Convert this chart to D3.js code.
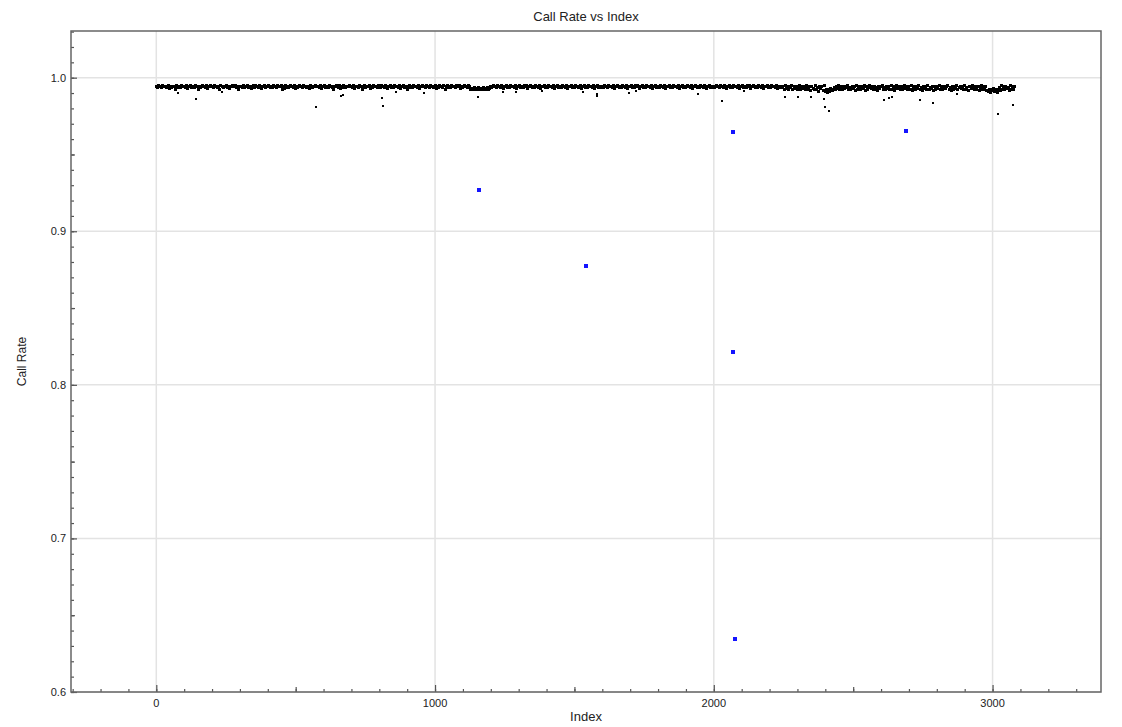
<!DOCTYPE html>
<html>
<head>
<meta charset="utf-8">
<script src="https://cdn.jsdelivr.net/npm/d3@7"></script>
<style>
  body { margin: 0; background: #fff; }
  text { font-family: "Liberation Sans", Arial, sans-serif; fill: #222; }
</style>
</head>
<body>
<svg id="chart" width="1122" height="727"></svg>
<script>
const title = "Call Rate vs Index";
const xLabel = "Index";
const yLabel = "Call Rate";
const xTicks = [0, 1000, 2000, 3000];
const yTicks = [0.6, 0.7, 0.8, 0.9, 1.0];

// main band: one sample every 4 indices, digit d -> call rate 0.9905 + d*0.0005
const bandStep = 4;
const bandRows = [
  "8697869786795868749687697869587968697847697869587986978684976879685798796847869687968579697869587968",
  "7968697869879475968697869586978697868597687978695879686978648796958697687978695886978479687958697869",
  "8697869587968697869587968479686978695879869786978695869786947968697869879586978697453645463546453645",
  "8697869786958796869786958796869795879686978695879686978695879686978695879686978695879686978695879686",
  "8697869786958796869786958796869795879686978695879686978695879686978695879686978695879686978695879686",
  "8697869786958796869786958796869795879686978695879686978695868674958376948573694758396472853946175829",
  "1403152463859473856794638572946837592846957384628579463857394826957384695837492684759362857394658273",
  "85947368579462837594685739462875963847259483721403251403629473856294738"
];

// isolated low points below the band
const lowIdx = [79, 141, 235, 572, 663, 669, 811, 815, 860, 960,
  1153, 1242, 1292, 1385, 1529, 1580, 1580, 1696, 1721, 1945,
  2031, 2109, 2256, 2302, 2348, 2396, 2400, 2415, 2609, 2628,
  2640, 2738, 2786, 2872, 3021, 3073];
const lowRate = [0.9901, 0.9860, 0.9905, 0.9808, 0.9879, 0.9888, 0.9866, 0.9814, 0.9905, 0.9901,
  0.9875, 0.9909, 0.9909, 0.9912, 0.9909, 0.9894, 0.9879, 0.9898, 0.9912, 0.9894,
  0.9846, 0.9912, 0.9872, 0.9872, 0.9872, 0.9859, 0.9808, 0.9781, 0.9857, 0.9866,
  0.9872, 0.9853, 0.9834, 0.9894, 0.9762, 0.9821];

// flagged samples (blue)
const flagIdx = [1158, 1542, 2068, 2068, 2076, 2690];
const flagRate = [0.927, 0.8776, 0.9647, 0.8217, 0.6344, 0.9653];

// build points
let bandPts = bandRows.join("").split("").map((c, i) => ({ x: i * bandStep, y: 0.9905 + (+c) * 0.0005 }));
let lowPts = lowIdx.map((d, i) => ({ x: d, y: lowRate[i] }));
let bluePts = flagIdx.map((d, i) => ({ x: d, y: flagRate[i] }));

const svg = d3.select("#chart");
const pLeft = 71, pRight = 1101, pTop = 31, pBottom = 692;
const w = pRight - pLeft, h = pBottom - pTop;

var x = d3.scaleLinear().domain([-306, 3389]).range([pLeft, pRight]);
var y = d3.scaleLinear().domain([0.6, 1.0304]).range([pBottom, pTop]);

// grid
svg.append("g")
  .selectAll("line").data(xTicks).enter()
  .append("line")
  .attr("x1", d => x(d)).attr("x2", d => x(d))
  .attr("y1", pTop).attr("y2", pBottom)
  .attr("stroke", "#e3e3e3").attr("stroke-width", 1.5);
svg.append("g")
  .selectAll("line").data(yTicks).enter()
  .append("line")
  .attr("x1", pLeft).attr("x2", pRight)
  .attr("y1", d => y(d)).attr("y2", d => y(d))
  .attr("stroke", "#e3e3e3").attr("stroke-width", 1.5);

// points
svg.append("g").attr("shape-rendering", "crispEdges")
  .selectAll("rect").data(bandPts).enter()
  .append("rect")
  .attr("x", d => x(d.x) - 1.5).attr("y", d => y(d.y) - 1.5)
  .attr("width", 3).attr("height", 3)
  .attr("fill", "#000");

svg.append("g").attr("shape-rendering", "crispEdges")
  .selectAll("rect").data(lowPts).enter()
  .append("rect")
  .attr("x", d => x(d.x) - 1).attr("y", d => y(d.y) - 1)
  .attr("width", 2).attr("height", 2)
  .attr("fill", "#000");

svg.append("g").attr("shape-rendering", "crispEdges")
  .selectAll("rect").data(bluePts).enter()
  .append("rect")
  .attr("x", d => x(d.x) - 2).attr("y", d => y(d.y) - 2)
  .attr("width", 4).attr("height", 4)
  .attr("fill", "#1414ff");

// ticks (inward)
const minorX = d3.range(-300, 3390, 100);
const midX = [500, 1500, 2500];
const minorY = d3.range(60, 104, 1).map(d => d / 100);
const midY = [0.65, 0.75, 0.85, 0.95];

function tickX(vals, len) {
  svg.append("g").attr("transform", `translate(0,${pBottom})`)
    .call(d3.axisBottom(x).tickValues(vals).tickSize(-len).tickFormat(""))
    .call(g => g.select(".domain").remove())
    .selectAll("line").attr("stroke", "#555").attr("stroke-width", 1.2);
}
function tickY(vals, len) {
  svg.append("g").attr("transform", `translate(${pLeft},0)`)
    .call(d3.axisLeft(y).tickValues(vals).tickSize(-len).tickFormat(""))
    .call(g => g.select(".domain").remove())
    .selectAll("line").attr("stroke", "#555").attr("stroke-width", 1.2);
}
tickX(minorX, 3);
tickX(midX, 5);
tickX(xTicks, 7);
tickY(minorY, 3);
tickY(midY, 4);
tickY(yTicks, 6);

// frame
svg.append("rect")
  .attr("x", pLeft).attr("y", pTop).attr("width", w).attr("height", h)
  .attr("fill", "none").attr("stroke", "#666").attr("stroke-width", 1.5);

// tick labels
svg.append("g").selectAll("text").data(xTicks).enter()
  .append("text")
  .attr("x", d => x(d)).attr("y", pBottom + 15)
  .attr("text-anchor", "middle").style("font-size", "11px")
  .text(d => d);
svg.append("g").selectAll("text").data(yTicks).enter()
  .append("text")
  .attr("x", pLeft - 5).attr("y", d => y(d) + 4)
  .attr("text-anchor", "end").style("font-size", "11px")
  .text(d => d.toFixed(1));

// titles
svg.append("text")
  .attr("x", (pLeft + pRight) / 2).attr("y", 21)
  .attr("text-anchor", "middle").style("font-size", "13px")
  .text(title);
svg.append("text")
  .attr("x", (pLeft + pRight) / 2).attr("y", 721)
  .attr("text-anchor", "middle").style("font-size", "13px")
  .text(xLabel);
svg.append("text")
  .attr("transform", `translate(26,${(pTop + pBottom) / 2}) rotate(-90)`)
  .attr("text-anchor", "middle").style("font-size", "12px")
  .text(yLabel);
</script>
</body>
</html>
